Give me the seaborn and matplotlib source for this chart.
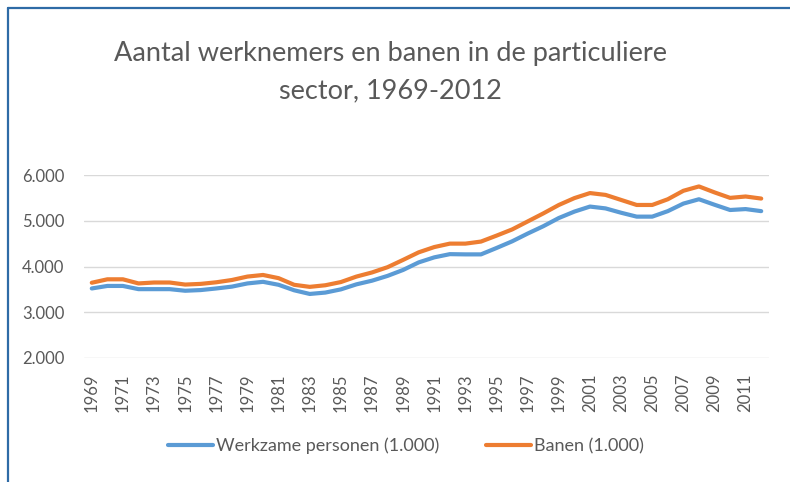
import numpy as np
import pandas as pd
import seaborn as sns
import matplotlib.pyplot as plt
from matplotlib.lines import Line2D

# Data (x 1.000)
years = list(range(1969, 2013))
werkzame = [3520, 3575, 3575, 3505, 3505, 3505, 3470, 3485, 3520, 3560, 3630,
            3665, 3600, 3480, 3400, 3430, 3500, 3610, 3690, 3795, 3925, 4090,
            4200, 4270, 4265, 4265, 4405, 4550, 4720, 4880, 5060, 5200, 5310,
            5270, 5175, 5090, 5090, 5210, 5375, 5470, 5350, 5235, 5255, 5210]
banen = [3645, 3720, 3720, 3630, 3650, 3650, 3605, 3620, 3655, 3705, 3780,
         3815, 3745, 3600, 3555, 3590, 3660, 3780, 3870, 3985, 4145, 4310,
         4425, 4500, 4500, 4545, 4675, 4810, 4985, 5160, 5345, 5495, 5605,
         5565, 5455, 5345, 5345, 5470, 5655, 5750, 5620, 5500, 5530, 5485]
labels = ["Werkzame personen (1.000)", "Banen (1.000)"]

df = pd.DataFrame({"jaar": years, labels[0]: werkzame, labels[1]: banen})
long = df.melt(id_vars="jaar", var_name="reeks", value_name="waarde")
long["pos"] = long["jaar"] - years[0]

sns.set_theme(style="white")
plt.rcParams['font.family'] = ['Lato', 'DejaVu Sans']
grey = "#595959"

fig = plt.figure(figsize=(7.9, 4.82), dpi=100)
ax = fig.add_axes([84 / 790, 1 - 358 / 482, 685 / 790, (358 - 175) / 482])

sns.lineplot(data=long, x="pos", y="waarde", hue="reeks",
             palette=["#5B9BD5", "#ED7D31"], linewidth=3, ax=ax,
             legend=False)

ax.set_xlim(-0.5, len(years) - 0.5)
ax.set_ylim(2000, 6000)
ax.set_yticks([2000, 3000, 4000, 5000, 6000])
ax.set_yticklabels(["2.000", "3.000", "4.000", "5.000", "6.000"])
ax.set_xticks(range(0, len(years), 2))
ax.set_xticklabels([str(y) for y in years[::2]], rotation=90)
ax.tick_params(axis="both", length=0, colors=grey, labelsize=12)
ax.tick_params(axis="x", pad=11)
ax.tick_params(axis="y", pad=14)
ax.yaxis.grid(True, color="#D9D9D9", linewidth=1)
ax.set_axisbelow(True)
ax.set_xlabel("")
ax.set_ylabel("")
for s in ax.spines.values():
    s.set_visible(False)

fig.text(0.494, 1 - 53 / 482, "Aantal werknemers en banen in de particuliere",
         ha="center", va="center", fontsize=19.5, color=grey)
fig.text(0.494, 1 - 91 / 482, "sector, 1969-2012",
         ha="center", va="center", fontsize=19.5, color=grey)

handles = [Line2D([], [], color="#5B9BD5", linewidth=3),
           Line2D([], [], color="#ED7D31", linewidth=3)]
fig.legend(handles, labels, loc="center", bbox_to_anchor=(0.514, 1 - 446 / 482),
           ncol=2, frameon=False, fontsize=13, labelcolor=grey,
           handlelength=2.5, handletextpad=0.15, columnspacing=2.6)

# outer frame (only top and left edges visible)
fig.add_artist(Line2D([8 / 790, 8 / 790], [0, 1 - 8 / 482], transform=fig.transFigure,
                      color="#2E6BA6", linewidth=1.6))
fig.add_artist(Line2D([8 / 790, 1], [1 - 8 / 482, 1 - 8 / 482], transform=fig.transFigure,
                      color="#2E6BA6", linewidth=1.6))

fig.savefig("out.png", dpi=100)
